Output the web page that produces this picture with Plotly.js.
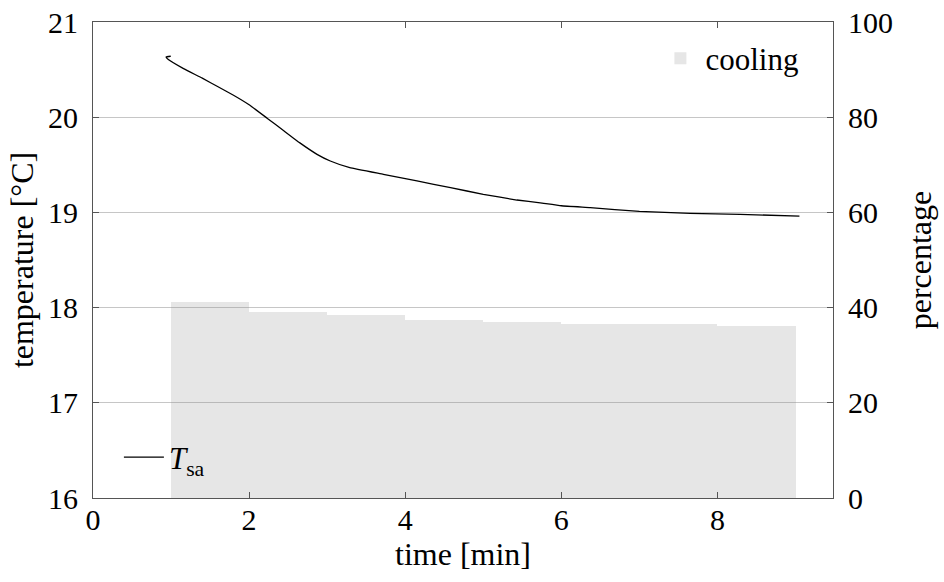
<!DOCTYPE html>
<html>
<head>
<meta charset="utf-8">
<script src="https://cdn.plot.ly/plotly-3.0.1.min.js"></script>
<style>html,body{margin:0;padding:0;background:#fff;}#chart{width:944px;height:582px;}</style>
</head>
<body>
<div id="chart"></div>
<script>
// Temperature curve T_sa
const timeMin = [0.996, 0.936, 0.965, 1.16, 1.4, 1.59, 1.8, 2.0, 2.23, 2.44, 2.65, 2.87, 3.04, 3.29, 3.72, 4.15, 4.58, 5.0, 5.43, 5.73, 6.0, 6.37, 7.0, 7.65, 8.29, 9.05];
const tempSa  = [20.64, 20.632, 20.605, 20.51, 20.41, 20.325, 20.23, 20.13, 19.99, 19.86, 19.73, 19.61, 19.54, 19.47, 19.40, 19.33, 19.26, 19.19, 19.13, 19.10, 19.07, 19.05, 19.01, 18.99, 18.98, 18.96];
// Cooling percentage per minute interval
const coolingCenters = [1.5, 2.5, 3.5, 4.5, 5.5, 6.5, 7.5, 8.5];
const coolingPct = [41.2, 39.1, 38.5, 37.5, 37.0, 36.6, 36.6, 36.1];
const xTicks = [0, 2, 4, 6, 8];

const FONT = "Liberation Serif";
const AX = '#555555';

const traces = [
  {
    type: 'bar', x: coolingCenters, y: coolingPct, width: 1,
    yaxis: 'y2', name: 'cooling',
    marker: {color: 'rgba(140,140,140,0.22)', line: {width: 0}},
    legend: 'legend', hoverinfo: 'skip'
  },
  {
    type: 'scatter', mode: 'lines', x: timeMin, y: tempSa,
    name: '<i>T</i><sub>sa</sub>', line: {color: '#000', width: 1.3, shape: 'spline', smoothing: 0.3},
    legend: 'legend2', yaxis: 'y'
  }
];

const layout = {
  width: 944, height: 582,
  margin: {l: 93, r: 111, t: 22, b: 84},
  paper_bgcolor: '#fff', plot_bgcolor: '#fff',
  font: {family: FONT, size: 30, color: '#000'},
  bargap: 0,
  xaxis: {
    range: [0, 9.48], tickvals: xTicks, ticks: 'inside', ticklen: 6, tickcolor: AX,
    showline: true, linecolor: AX, linewidth: 1, mirror: 'ticks',
    showgrid: false, zeroline: false,
    ticklabelstandoff: -5, tickfont: {family: FONT, size: 30},
    title: {text: 'time [min]', standoff: 0, font: {family: FONT, size: 32}},
    automargin: false
  },
  yaxis: {
    range: [16, 21], dtick: 1, ticks: 'inside', ticklen: 6, tickcolor: AX,
    showline: true, linecolor: AX, linewidth: 1,
    showgrid: true, gridcolor: '#c6c6c6', gridwidth: 1, zeroline: false,
    ticklabelstandoff: 8, tickfont: {family: FONT, size: 30},
    title: {text: 'temperature [°C]', standoff: 4, font: {family: FONT, size: 32}},
    automargin: false
  },
  yaxis2: {
    range: [0, 100], dtick: 20, overlaying: 'y', side: 'right',
    ticks: 'inside', ticklen: 6, tickcolor: AX,
    showline: true, linecolor: AX, linewidth: 1,
    showgrid: false, zeroline: false,
    ticklabelstandoff: 8, tickfont: {family: FONT, size: 30},
    title: {text: 'percentage', standoff: 16, font: {family: FONT, size: 32}},
    automargin: false
  },
  legend: {
    x: 0.96, xanchor: 'right', y: 0.98, yanchor: 'top',
    bgcolor: 'rgba(0,0,0,0)', borderwidth: 0,
    font: {family: FONT, size: 31}, itemwidth: 40
  },
  legend2: {
    x: 0.035, xanchor: 'left', y: 0.085, yanchor: 'middle',
    bgcolor: 'rgba(0,0,0,0)', borderwidth: 0,
    font: {family: FONT, size: 31}, itemwidth: 40
  },
  showlegend: true
};

Plotly.newPlot('chart', traces, layout, {displayModeBar: false, staticPlot: true});
</script>
</body>
</html>
